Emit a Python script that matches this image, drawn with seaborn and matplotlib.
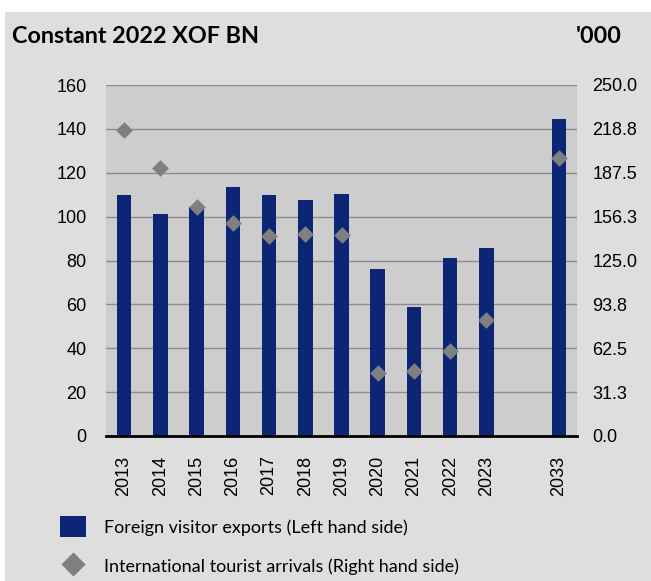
import pandas as pd
import matplotlib.pyplot as plt
import seaborn as sns
from matplotlib.patches import Rectangle

# data
years = ['2013', '2014', '2015', '2016', '2017', '2018', '2019',
         '2020', '2021', '2022', '2023', '2033']
exports = [110, 101.2, 104.2, 113.5, 110, 107.8, 110.5, 76.2, 58.6, 81.1, 85.5, 144.6]
arrivals = [218, 191, 163, 152, 142.5, 144, 143, 45, 46, 60.5, 82.5, 198]
order = years[:11] + [' '] + years[11:]   # empty slot before 2033
right_ticks = [0, 31.25, 62.5, 93.75, 125, 156.25, 187.5, 218.75, 250]
right_ticklabels = ['0.0', '31.3', '62.5', '93.8', '125.0', '156.3', '187.5', '218.8', '250.0']

df = pd.DataFrame({'year': years, 'exports': exports, 'arrivals': arrivals})

bar_color = '#0c2574'
dia_color = '#7f7f7f'
tick_font = 'Liberation Sans'
text_font = 'Lato'

fig = plt.figure(figsize=(6.51, 5.81), dpi=100, facecolor='white')
fig.patches.append(Rectangle((5 / 651, 0), 1, 1 - 12 / 581, transform=fig.transFigure,
                             facecolor='#dedede', edgecolor='none', zorder=-10))

ax = fig.add_axes([106 / 651, 1 - 436 / 581, 471 / 651, 351 / 581])
ax.set_facecolor('#cdcdcd')

sns.barplot(data=df, x='year', y='exports', order=order, color=bar_color,
            width=0.4, saturation=1, edgecolor='none', ax=ax,
            label='Foreign visitor exports (Left hand side)')

ax2 = ax.twinx()
sns.stripplot(data=df, x='year', y='arrivals', order=order, jitter=False,
              marker='D', size=8.5, color=dia_color, linewidth=0, ax=ax2,
              label='International tourist arrivals (Right hand side)')
for a in (ax, ax2):
    if a.get_legend() is not None:
        a.get_legend().remove()

ax.set_ylim(0, 160)
ax.set_yticks(range(0, 161, 20))
ax2.set_ylim(0, 250)
ax2.set_yticks(right_ticks)
ax2.set_yticklabels(right_ticklabels)
ax.set_xlim(-0.5, len(order) - 0.5)

ax.set_axisbelow(True)
ax.yaxis.grid(True, color='#8c8c8c', linewidth=1)
ax.xaxis.grid(False)
for a in (ax, ax2):
    for side in ('left', 'right', 'top'):
        a.spines[side].set_visible(False)
    a.set_xlabel('')
    a.set_ylabel('')
ax2.spines['bottom'].set_visible(False)
ax.spines['bottom'].set_color('black')
ax.spines['bottom'].set_linewidth(2)

ax.tick_params(axis='y', length=0, pad=14, labelsize=13)
ax2.tick_params(axis='y', length=0, pad=11, labelsize=13)
ax.tick_params(axis='x', length=0, pad=14, labelsize=13, labelrotation=90)
for lab in ax.get_xticklabels() + ax.get_yticklabels() + ax2.get_yticklabels():
    lab.set_fontfamily(tick_font)

fig.text(12 / 651, 1 - 43 / 581, 'Constant 2022 XOF BN', fontsize=16.8, fontweight='bold',
         family=text_font, ha='left', va='baseline')
fig.text(622 / 651, 1 - 43 / 581, "'000", fontsize=16.8, fontweight='bold',
         family=text_font, ha='right', va='baseline')

h1, l1 = ax.get_legend_handles_labels()
h2, l2 = ax2.get_legend_handles_labels()
fig.legend(h1[:1] + h2[:1], l1[:1] + l2[:1], loc='upper left',
           bbox_to_anchor=(60 / 651, 1 - 516 / 581), frameon=False,
           borderpad=0, borderaxespad=0, handlelength=1.45, handleheight=1.45,
           handletextpad=1.0, labelspacing=1.0, markerscale=1.45,
           prop={'family': text_font, 'size': 13})

fig.savefig('out.png', dpi=100, facecolor=fig.get_facecolor())
